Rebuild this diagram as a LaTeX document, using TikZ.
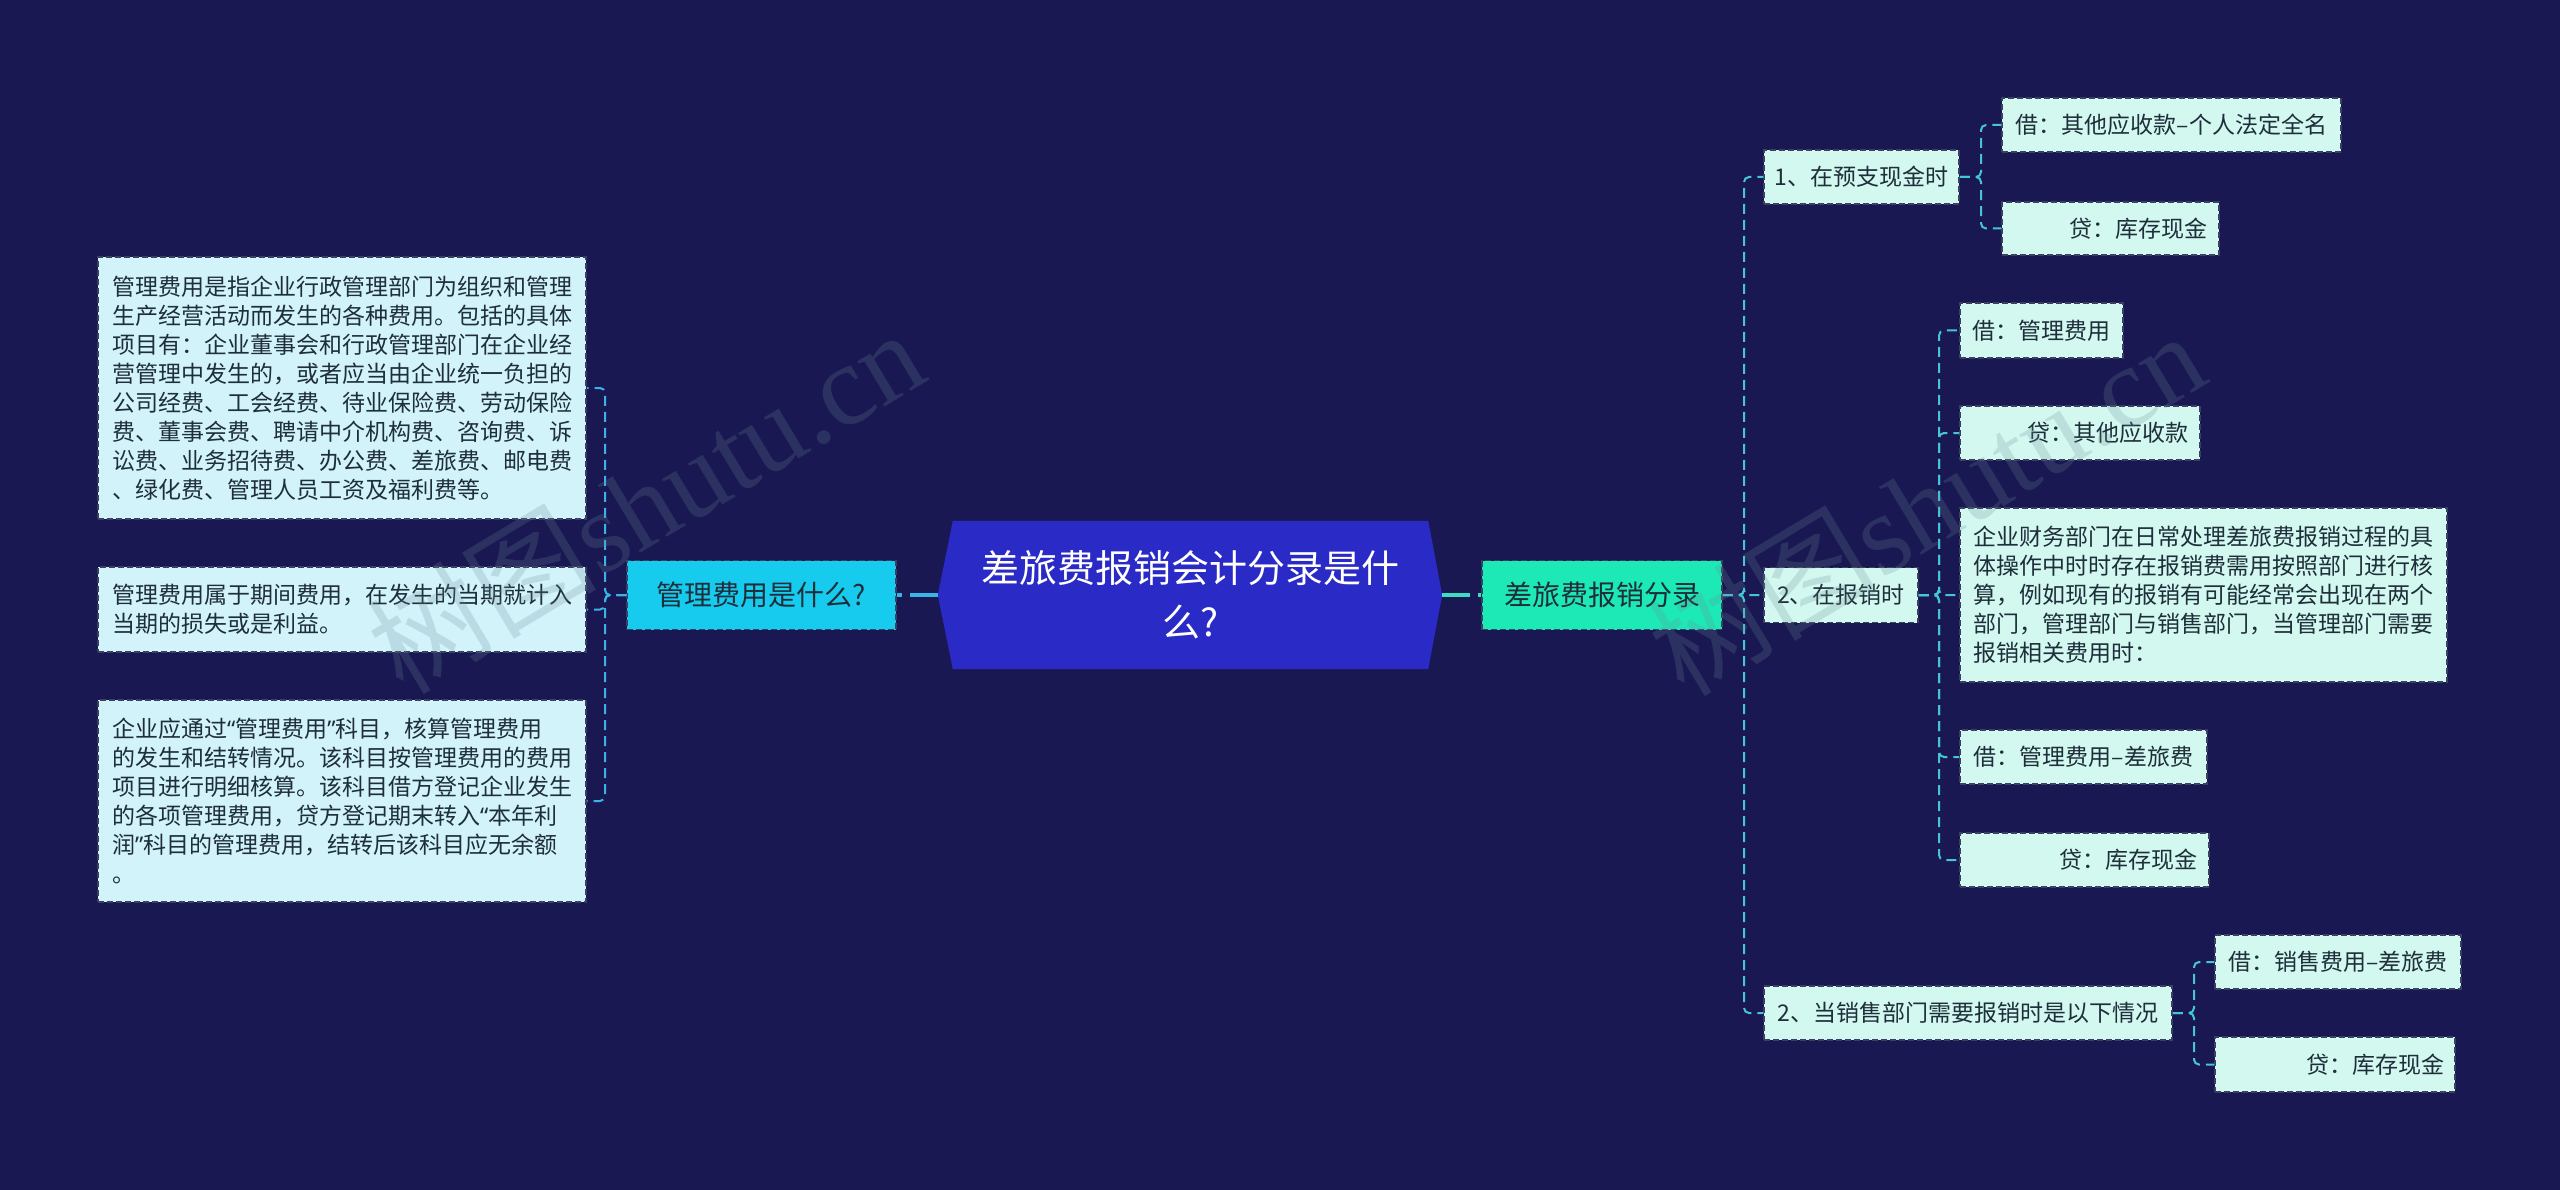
\documentclass[tikz,border=0pt]{standalone}
\usepackage{fontspec}
\newfontfamily\cjk{Noto Sans CJK SC}
\newfontfamily\latq{Noto Sans}
\newfontfamily\wmserif{Liberation Serif}
\newcommand{\myoq}{{\latq “}}
\newcommand{\mycq}{{\latq ”}}
\usetikzlibrary{backgrounds}
\definecolor{bg}{HTML}{1A1852}
\definecolor{rootblue}{HTML}{2A2AC6}
\definecolor{lmfill}{HTML}{17CBEF}
\definecolor{rmfill}{HTML}{1DE9B6}
\definecolor{lleaf}{HTML}{D2F3FA}
\definecolor{rleaf}{HTML}{D2F8EF}
\definecolor{lline}{HTML}{3AB4E4}
\definecolor{rline}{HTML}{45C6D6}
\definecolor{rmline}{HTML}{3DDCC2}
\definecolor{txt}{HTML}{1E2E3A}
\definecolor{bord}{HTML}{3A4060}
\definecolor{wm}{HTML}{6A8A98}
\begin{document}
\begin{tikzpicture}[x=1pt,y=-1pt,
  base/.style={draw=bord, line width=1.5pt, dash pattern=on 6pt off 3pt, inner sep=0pt,
    font=\cjk\fontsize{23}{29}\selectfont, text=txt},
  lbox/.style 2 args={base, fill=lleaf, minimum width=#1, minimum height=#2},
  rbox/.style 2 args={base, fill=rleaf, minimum width=#1, minimum height=#2},
  lcon/.style={draw=lline, line width=2pt, dash pattern=on 10pt off 6pt, rounded corners=5pt},
  rcon/.style={draw=rline, line width=2pt, dash pattern=on 10pt off 6pt, rounded corners=5pt},
  lmainc/.style={draw=lline, line width=3.5pt, dash pattern=on 28pt off 8pt},
  rmainc/.style={draw=rmline, line width=3.5pt, dash pattern=on 28pt off 8pt},
  wmark/.style={text=wm, opacity=0.22, rotate=31, inner sep=0pt}
]
\useasboundingbox (0,0) rectangle (2560,1190);
\begin{scope}[on background layer]
  \fill[bg] (0,0) rectangle (2560,1190);
\end{scope}

% root
\node[minimum width=504, minimum height=148, inner sep=0pt, text=white, align=center,
  font=\cjk\fontsize{38}{54}\selectfont] (root) at (1190,595) {差旅费报销会计分录是什\\么?};
\begin{scope}[on background layer]
  \fill[rootblue] ([xshift=15pt]root.north west) -- ([xshift=-14pt]root.north east) -- (root.east)
    -- ([xshift=-14pt]root.south east) -- ([xshift=15pt]root.south west) -- (root.west) -- cycle;
\end{scope}

% main branches
\node[base, fill=lmfill, minimum width=269, minimum height=69, font=\cjk\fontsize{28}{34}\selectfont,
  text=txt] (lm) at (761.5,595) {管理费用是什么?};
\node[base, fill=rmfill, minimum width=240, minimum height=69, font=\cjk\fontsize{28}{34}\selectfont,
  text=txt] (rm) at (1602,595) {差旅费报销分录};

% left leaves
\node[lbox={488}{262}, text width=460, align=left] (L1) at (342,388) {管理费用是指企业行政管理部门为组织和管理\\生产经营活动而发生的各种费用。包括的具体\\项目有：企业董事会和行政管理部门在企业经\\营管理中发生的，或者应当由企业统一负担的\\公司经费、工会经费、待业保险费、劳动保险\\费、董事会费、聘请中介机构费、咨询费、诉\\讼费、业务招待费、办公费、差旅费、邮电费\\、绿化费、管理人员工资及福利费等。};
\node[lbox={488}{85}, text width=460, align=left] (L2) at (342,609.5) {管理费用属于期间费用，在发生的当期就计入\\当期的损失或是利益。};
\node[lbox={488}{202}, text width=460, align=left] (L3) at (342,801) {企业应通过\myoq 管理费用\mycq 科目，核算管理费用\\的发生和结转情况。该科目按管理费用的费用\\项目进行明细核算。该科目借方登记企业发生\\的各项管理费用，贷方登记期末转入\myoq 本年利\\润\mycq 科目的管理费用，结转后该科目应无余额\\。};

% right level 2
\node[rbox={195}{54}] (A) at (1861.5,177) {1、在预支现金时};
\node[rbox={154}{55}] (B) at (1841,595) {2、在报销时};
\node[rbox={408}{54}] (C) at (1968,1013) {2、当销售部门需要报销时是以下情况};

% A children
\node[rbox={339}{54}] (A1) at (2171.5,125) {借：其他应收款–个人法定全名};
\node[rbox={217}{53}, text width=193, align=right] (A2) at (2110.5,228.5) {贷：库存现金};
% B children
\node[rbox={163}{55}] (B1) at (2041.5,330.5) {借：管理费用};
\node[rbox={240}{54}, text width=216, align=right] (B2) at (2080,433) {贷：其他应收款};
\node[rbox={487}{174}, text width=460, align=left] (B3) at (2203.5,595) {企业财务部门在日常处理差旅费报销过程的具\\体操作中时时存在报销费需用按照部门进行核\\算，例如现有的报销有可能经常会出现在两个\\部门，管理部门与销售部门，当管理部门需要\\报销相关费用时：};
\node[rbox={247}{54}] (B4) at (2083.5,757) {借：管理费用–差旅费};
\node[rbox={249}{54}, text width=225, align=right] (B5) at (2084.5,860) {贷：库存现金};
% C children
\node[rbox={246}{54}] (C1) at (2338,962) {借：销售费用–差旅费};
\node[rbox={240}{55}, text width=218, align=right] (C2) at (2335,1064.5) {贷：库存现金};

% trunk coordinates
\coordinate (tl) at (605,595);
\coordinate (tr) at (1744,595);
\coordinate (ta) at (1981,177);
\coordinate (tb) at (1939,595);
\coordinate (tc) at (2194,1013);

% connectors
\draw[lmainc] (root.west) -- (lm.east);
\draw[rmainc] (root.east) -- (rm.west);

\draw[lcon] (lm.west) -- (tl) |- (L1.east);
\draw[lcon] (lm.west) -- (tl) |- (L2.east);
\draw[lcon] (lm.west) -- (tl) |- (L3.east);

\draw[rcon] (rm.east) -- (tr) |- (A.west);
\draw[rcon] (rm.east) -- (tr) |- (B.west);
\draw[rcon] (rm.east) -- (tr) |- (C.west);

\draw[rcon] (A.east) -- (ta) |- (A1.west);
\draw[rcon] (A.east) -- (ta) |- (A2.west);

\draw[rcon] (B.east) -- (tb) |- (B1.west);
\draw[rcon] (B.east) -- (tb) |- (B2.west);
\draw[rcon] (B.east) -- (tb) |- (B3.west);
\draw[rcon] (B.east) -- (tb) |- (B4.west);
\draw[rcon] (B.east) -- (tb) |- (B5.west);

\draw[rcon] (C.east) -- (tc) |- (C1.west);
\draw[rcon] (C.east) -- (tc) |- (C2.west);

% watermarks
\node[wmark] (wm1) at (645,500) {\cjk\fontsize{115}{115}\selectfont 树图\wmserif shutu.cn};
\node[wmark] (wm2) at (1926,502) {\cjk\fontsize{115}{115}\selectfont 树图\wmserif shutu.cn};
\end{tikzpicture}
\end{document}
